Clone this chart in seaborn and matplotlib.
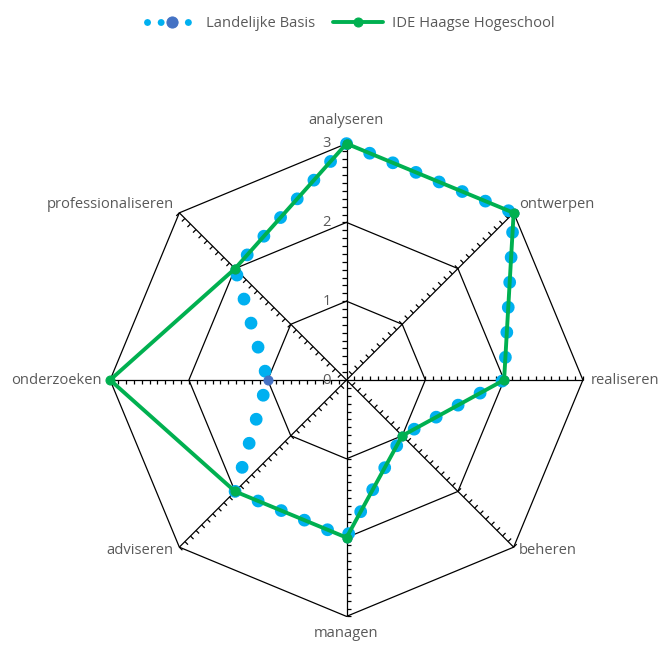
import numpy as np
import pandas as pd
import seaborn as sns
import matplotlib.pyplot as plt
from matplotlib.collections import LineCollection

# gegevens uit de grafiek (met de klok mee vanaf boven)
categories = ['analyseren', 'ontwerpen', 'realiseren', 'beheren',
              'managen', 'adviseren', 'onderzoeken', 'professionaliseren']
landelijke_basis = [3, 3, 2, 1, 2, 2, 1, 2]
ide_haagse = [3, 3, 2, 1, 2, 2, 3, 2]
radial_ticks = [0, 1, 2, 3]

sns.set_theme(style='white')
plt.rcParams['font.family'] = ['Open Sans', 'DejaVu Sans']

n = len(categories)
angles = np.deg2rad(90 - 360 / n * np.arange(n))
rmax = radial_ticks[-1]
grey = '#595959'
fs = 10.6


def to_xy(values, name):
    """Polaire waarden omzetten naar een gesloten veelhoek (x, y)."""
    v = np.append(values, values[0]).astype(float)
    a = np.append(angles, angles[0])
    return pd.DataFrame({'x': v * np.cos(a), 'y': v * np.sin(a), 'reeks': name})


fig = plt.figure(figsize=(6.62, 6.46), dpi=100)
ax = fig.add_axes([0, 0, 1, 1])
unit = 78.8  # pixels per schaaleenheid
ax.set_xlim(-346.5 / unit, (662 - 346.5) / unit)
ax.set_ylim(-(646 - 380) / unit, 380 / unit)
ax.axis('off')

# rasterlijnen (achthoeken)
for r in radial_ticks[1:]:
    g = to_xy([r] * n, '')
    ax.plot(g['x'], g['y'], color='black', lw=0.9, zorder=1)

# spaken met kleine streepjes
segs = []
for a in angles:
    d = np.array([np.cos(a), np.sin(a)])
    p = np.array([-d[1], d[0]])
    segs.append([(0, 0), tuple(d * rmax)])
    for t in np.arange(0.1, rmax + 0.001, 0.1):
        segs.append([tuple(d * t), tuple(d * t + p * 0.055)])
ax.add_collection(LineCollection(segs, colors='black', linewidths=0.9, zorder=1))

# reeksen
sns.lineplot(data=to_xy(landelijke_basis, 'Landelijke Basis'), x='x', y='y',
             sort=False, estimator=None, ax=ax, color='#00B0F0', linewidth=9.2,
             linestyle=(0, (0.01, 1.95)), dash_capstyle='round',
             marker='o', markersize=6.5, markerfacecolor='#4472C4',
             markeredgecolor='#4472C4', label='Landelijke Basis', zorder=2)
sns.lineplot(data=to_xy(ide_haagse, 'IDE Haagse Hogeschool'), x='x', y='y',
             sort=False, estimator=None, ax=ax, color='#00B050', linewidth=2.8,
             marker='o', markersize=6.5, markerfacecolor='#00B050',
             markeredgecolor='#00B050', label='IDE Haagse Hogeschool', zorder=3)

# categorie-labels
for a, cat in zip(angles, categories):
    c, s = np.cos(a), np.sin(a)
    if abs(c) < 1e-6:
        ha = 'center'
        va = 'bottom' if s > 0 else 'top'
        r = rmax + (0.2 if s > 0 else 0.12)
        dy = 0
    else:
        ha = 'left' if c > 0 else 'right'
        va = 'center'
        r = rmax + 0.1
        dy = 0.03 if abs(s) > 1e-6 else 0
    ax.text(r * c, r * s + dy, cat, ha=ha, va=va, fontsize=fs, color=grey)

# schaalwaarden
for v in radial_ticks:
    ax.text(-0.2, v, str(v), ha='right', va='center', fontsize=fs, color=grey)

leg = ax.legend(loc='upper center', bbox_to_anchor=(0.53, 0.995), ncol=2,
                frameon=False, fontsize=fs, handlelength=3.4,
                handletextpad=0.6, columnspacing=1.2)
for t in leg.get_texts():
    t.set_color(grey)
leg_lines = leg.get_lines()
leg_lines[0].set_linewidth(5)
leg_lines[0].set_markersize(8)

fig.savefig('out.png', dpi=100)
